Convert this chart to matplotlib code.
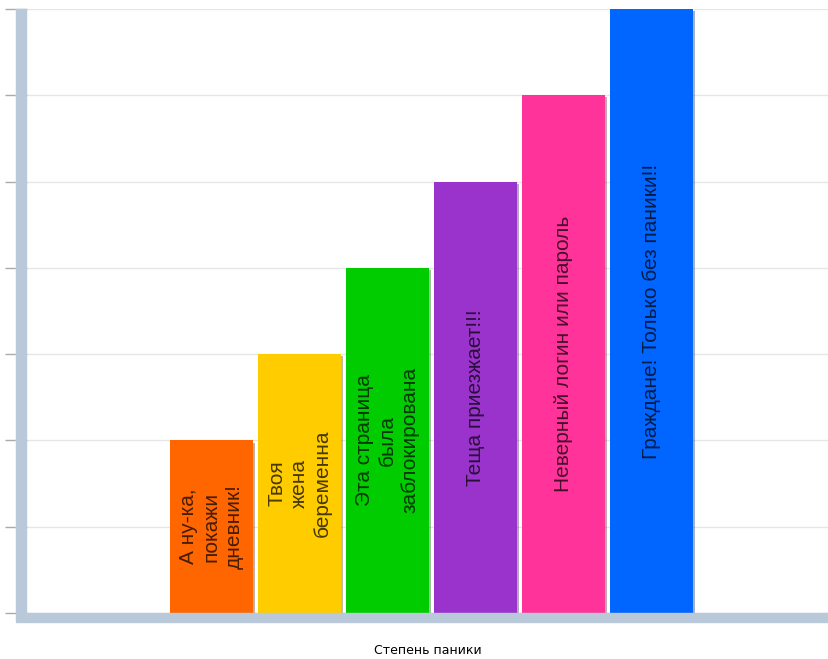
import matplotlib.pyplot as plt
import matplotlib.patheffects as pe
from matplotlib.patches import Rectangle
import numpy as np

# данные
labels = ["А ну-ка,\nпокажи\nдневник!",
          "Твоя\nжена\nбеременна",
          "Эта страница\nбыла\nзаблокирована",
          "Теща приезжает!!!",
          "Неверный логин или пароль",
          "Граждане! Только без паники!!"]
values = [2, 3, 4, 5, 6, 7]
colors = ["#ff6600", "#ffcc00", "#00cc00", "#9933cc", "#ff3399", "#0066ff"]

band = "#b9c9da"

fig = plt.figure(figsize=(8.29, 6.59), dpi=100)
ax = fig.add_axes([27 / 829, 46 / 659, 802 / 829, 604 / 659])

x = np.arange(len(values))
bars = ax.bar(x, values, width=0.943, color=colors, zorder=3)
for b in bars:
    b.set_path_effects([pe.SimplePatchShadow(offset=(1.5, -1.5), alpha=0.35), pe.Normal()])

# подписи внутри столбцов
for xi, v, lab in zip(x, values, labels):
    ax.text(xi, v / 2, lab, rotation=90, rotation_mode="anchor",
            ha="center", va="center", multialignment="center",
            linespacing=1.25, fontsize=15, family="Liberation Sans",
            color="black", alpha=0.72, zorder=4)

ax.set_xlim(-2.097, 7.02)
ax.set_ylim(0, 7)
ax.set_xticks([])
ax.set_yticks(range(0, 8))
ax.set_yticklabels([])
ax.tick_params(axis="y", direction="out", length=16, width=1, color="#aaaaaa")
ax.grid(axis="y", color="#e6e6e6", linewidth=1, zorder=0)
ax.set_axisbelow(True)
for s in ax.spines.values():
    s.set_visible(False)

# толстые полосы осей
fig.add_artist(Rectangle((16 / 829, 37 / 659), 10 / 829, 613 / 659,
                         transform=fig.transFigure, color=band, zorder=5))
fig.add_artist(Rectangle((27 / 829, 37 / 659), 802 / 829, 9 / 659,
                         transform=fig.transFigure, color=band, zorder=5))
# белые засечки на левой полосе
for yv in np.arange(0.5, 7.01, 0.5):
    ax.plot([-0.0135, -0.001], [yv, yv], color="white", linewidth=1,
            transform=ax.get_yaxis_transform(), clip_on=False, zorder=6)

ax.set_xlabel("Степень паники", fontsize=9, family="DejaVu Sans", labelpad=22)

plt.savefig("out.png", dpi=100)
